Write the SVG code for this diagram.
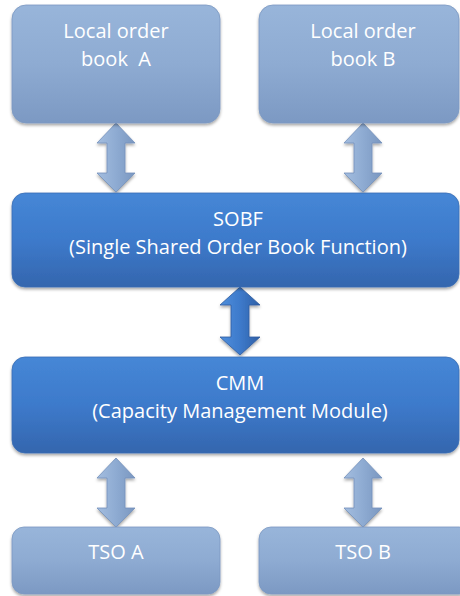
<svg xmlns="http://www.w3.org/2000/svg" width="460" height="596" viewBox="0 0 460 596">
  <defs>
    <linearGradient id="gLight" x1="0" y1="0" x2="0" y2="1">
      <stop offset="0" stop-color="#98b5da"/>
      <stop offset="0.5" stop-color="#8eabd2"/>
      <stop offset="1" stop-color="#7c99c3"/>
    </linearGradient>
    <linearGradient id="gDark" x1="0" y1="0" x2="0" y2="1">
      <stop offset="0" stop-color="#4687d6"/>
      <stop offset="0.5" stop-color="#3d7acb"/>
      <stop offset="1" stop-color="#3466ae"/>
    </linearGradient>
    <linearGradient id="gArrowLight" x1="0" y1="0" x2="1" y2="0">
      <stop offset="0" stop-color="#a3bddf"/>
      <stop offset="0.5" stop-color="#8eabd2"/>
      <stop offset="1" stop-color="#7a97c0"/>
    </linearGradient>
    <linearGradient id="gArrowDark" x1="0" y1="0" x2="1" y2="0">
      <stop offset="0" stop-color="#4f8fdc"/>
      <stop offset="0.5" stop-color="#3d7acb"/>
      <stop offset="1" stop-color="#2f5fa6"/>
    </linearGradient>
    <filter id="shadow" x="-10%" y="-10%" width="120%" height="130%">
      <feDropShadow dx="0" dy="2" stdDeviation="1.5" flood-color="#000" flood-opacity="0.35"/>
    </filter>
  </defs>
  <style>
    .light { fill: url(#gLight); stroke: #7b98c2; stroke-width: 0.8; filter: url(#shadow); }
    .dark { fill: url(#gDark); stroke: #3a6db4; stroke-width: 0.8; filter: url(#shadow); }
    .lbl { font-family: "Open Sans", "Noto Sans", sans-serif; font-size: 20px; fill: #ffffff; text-anchor: middle; }
    .arrL { fill: url(#gArrowLight); stroke: #7390bb; stroke-width: 0.8; filter: url(#shadow); }
    .arrD { fill: url(#gArrowDark); stroke: #2d5b9e; stroke-width: 0.8; filter: url(#shadow); }
  </style>

  <g id="connectors">
    <!-- Local order book A <-> SOBF -->
    <path class="arrL" d="M116,123 L135,143 L125,143 L125,173 L135,173 L116,192 L97,173 L107,173 L107,143 L97,143 Z"/>
    <!-- Local order book B <-> SOBF -->
    <path class="arrL" d="M363,123 L382,143 L372,143 L372,173 L382,173 L363,192 L344,173 L354,173 L354,143 L344,143 Z"/>
    <!-- SOBF <-> CMM -->
    <path class="arrD" d="M240,287 L260,305 L249,305 L249,337 L260,337 L240,355 L220,337 L231,337 L231,305 L220,305 Z"/>
    <!-- CMM <-> TSO A -->
    <path class="arrL" d="M116,458 L135,478 L125,478 L125,508 L135,508 L116,527 L97,508 L107,508 L107,478 L97,478 Z"/>
    <!-- CMM <-> TSO B -->
    <path class="arrL" d="M363,458 L382,478 L372,478 L372,508 L382,508 L363,527 L344,508 L354,508 L354,478 L344,478 Z"/>
  </g>

  <g id="local-order-book-a">
    <rect class="light" x="12" y="5" width="208" height="118" rx="14"/>
    <text class="lbl" x="116" y="38">Local order</text>
    <text class="lbl" x="116" y="66" xml:space="preserve">book  A</text>
  </g>

  <g id="local-order-book-b">
    <rect class="light" x="259" y="5" width="200" height="118" rx="14"/>
    <text class="lbl" x="363" y="38">Local order</text>
    <text class="lbl" x="363" y="66">book B</text>
  </g>

  <g id="sobf">
    <rect class="dark" x="12" y="193" width="447" height="94" rx="13"/>
    <text class="lbl" x="238" y="226">SOBF</text>
    <text class="lbl" x="238" y="254">(Single Shared Order Book Function)</text>
  </g>

  <g id="cmm">
    <rect class="dark" x="12" y="357" width="447" height="96" rx="13"/>
    <text class="lbl" x="240" y="390">CMM</text>
    <text class="lbl" x="240" y="418">(Capacity Management Module)</text>
  </g>

  <g id="tso-a">
    <rect class="light" x="12" y="527" width="208" height="67" rx="12"/>
    <text class="lbl" x="116" y="559">TSO A</text>
  </g>

  <g id="tso-b">
    <rect class="light" x="259" y="527" width="212" height="67" rx="12"/>
    <text class="lbl" x="363" y="559">TSO B</text>
  </g>
</svg>
